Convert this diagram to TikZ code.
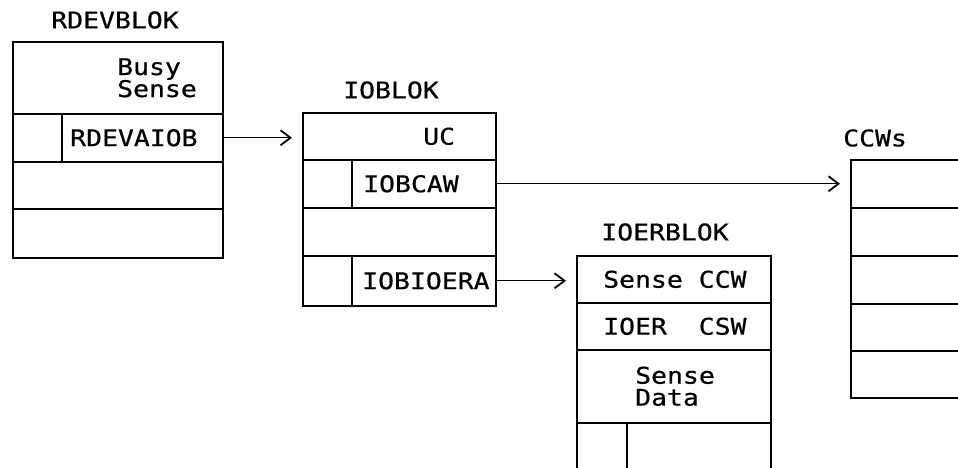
\documentclass[tikz,border=0pt]{standalone}
\usepackage{fontspec}
\newfontfamily\blkfont[FakeStretch=1.15,FakeBold=0.6]{DejaVu Sans Mono}
\usetikzlibrary{positioning,arrows.meta}

\begin{document}
\begin{tikzpicture}[
    x=1pt, y=-1pt,
    >={Straight Barb[length=10pt,width=15pt,line width=1.8pt]},
    font=\blkfont\fontsize{23}{22}\selectfont,
    % Styles
    cell/.style={draw, line width=1.6pt, inner sep=0, anchor=north west},
    lbl/.style={inner sep=0, anchor=west, align=left},
    ptr/.style={->, line width=1.3pt, shorten >=10pt}
]
\clip (0,0) rectangle (958,468);

% --- RDEVBLOK ---
\node (rdtitle) at (115,20) {RDEVBLOK};
\node[cell, minimum width=210, minimum height=72] (rd1) at (12,41) {};
\node[cell, minimum width=49, minimum height=48] (rd2a) at (12,113) {};
\node[cell, minimum width=161, minimum height=48] (rd2b) at (61,113) {};
\node[cell, minimum width=210, minimum height=47] (rd3) at (12,161) {};
\node[cell, minimum width=210, minimum height=49] (rd4) at (12,208) {};
\node[lbl, right=105pt of rd1.west] (busy) {Busy\\Sense};
\node[lbl, right=9pt of rd2b.west] (rdevaiob) {RDEVAIOB};

% --- IOBLOK ---
\node (iotitle) at (391,90) {IOBLOK};
\node[cell, minimum width=193, minimum height=47] (io1) at (302,112) {};
\node[cell, minimum width=49, minimum height=48] (io2a) at (302,159) {};
\node[cell, minimum width=144, minimum height=48] (io2b) at (351,159) {};
\node[cell, minimum width=193, minimum height=48] (io3) at (302,207) {};
\node[cell, minimum width=49, minimum height=50] (io4a) at (302,255) {};
\node[cell, minimum width=144, minimum height=50] (io4b) at (351,255) {};
\node[lbl, right=121pt of io1.west] (uc) {UC};
\node[lbl, right=12pt of io2b.west] (iobcaw) {IOBCAW};
\node[lbl, right=11pt of io4b.west] (iobioera) {IOBIOERA};

% --- IOERBLOK ---
\node (ietitle) at (665,232) {IOERBLOK};
\node[cell, minimum width=194, minimum height=47] (ie1) at (576,255) {};
\node[cell, minimum width=194, minimum height=47] (ie2) at (576,302) {};
\node[cell, minimum width=194, minimum height=73] (ie3) at (576,349) {};
\node[cell, minimum width=50, minimum height=60] (ie4a) at (576,422) {};
\node[cell, minimum width=144, minimum height=60] (ie4b) at (626,422) {};
\node[lbl, right=27pt of ie1.west] (sccw) {Sense CCW};
\node[lbl, right=27pt of ie2.west] (csw) {IOER\ \ CSW};
\node[lbl, right=59pt of ie3.west] (sdata) {Sense\\Data};

% --- CCWs ---
\node[lbl] (cctitle) at (843,138) {CCWs};
\node[cell, minimum width=150, minimum height=48] (cc1) at (850,159) {};
\node[cell, minimum width=150, minimum height=48] (cc2) at (850,207) {};
\node[cell, minimum width=150, minimum height=48] (cc3) at (850,255) {};
\node[cell, minimum width=150, minimum height=47] (cc4) at (850,303) {};
\node[cell, minimum width=150, minimum height=47] (cc5) at (850,350) {};

% Zeiger
\draw[ptr] (rd2b.east) -- (rd2b.east -| io1.west);
\draw[ptr] (io2b.east) -- (io2b.east -| cc1.west);
\draw[ptr] (io4b.east) -- (io4b.east -| ie1.west);

\end{tikzpicture}
\end{document}
